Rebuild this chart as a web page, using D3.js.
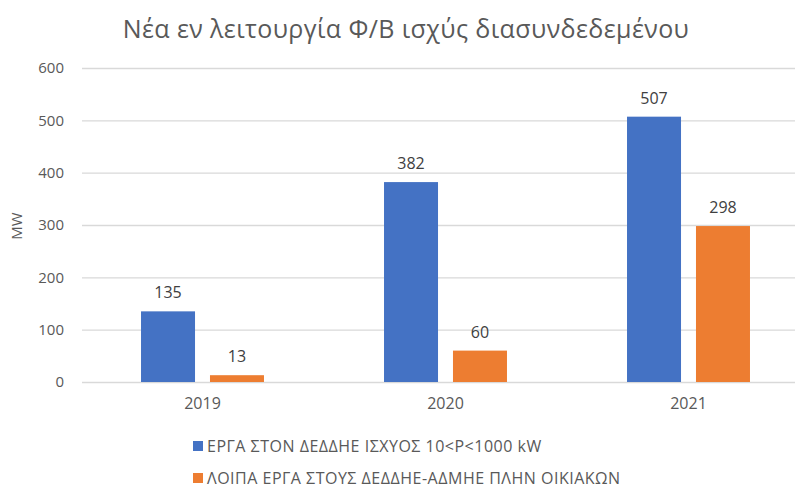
<!DOCTYPE html>
<html>
<head>
<meta charset="utf-8">
<script src="https://cdn.jsdelivr.net/npm/d3@7"></script>
<style>
  body { margin: 0; background: #fff; }
  text { font-family: "Open Sans", "Noto Sans", sans-serif; }
</style>
</head>
<body>
<div id="plot"></div>
<script>
// data
var years = ["2019", "2020", "2021"];
var seriesNames = [
    "ΕΡΓΑ ΣΤΟΝ ΔΕΔΔΗΕ ΙΣΧΥΟΣ 10<P<1000 kW",
    "ΛΟΙΠΑ ΕΡΓΑ ΣΤΟΥΣ ΔΕΔΔΗΕ-ΑΔΜΗΕ ΠΛΗΝ ΟΙΚΙΑΚΩΝ"
];
var dedde = [135, 382, 507];
var loipa = [13, 60, 298];
var yTicks = [0, 100, 200, 300, 400, 500, 600];
var colors = ["#4472C4", "#ED7D31"];

var W = 795, H = 489;
var svg = d3.select("#plot")
  .append("svg")
    .attr("width", W)
    .attr("height", H);

// title
svg.append("text")
    .attr("x", 406)
    .attr("y", 38)
    .attr("text-anchor", "middle")
    .style("font-size", "25px")
    .style("letter-spacing", "0.4px")
    .style("fill", "#595959")
    .text("Νέα εν λειτουργία Φ/Β ισχύς διασυνδεδεμένου");

// scales
var y = d3.scaleLinear().domain([0, 600]).range([382, 68]);
var x0 = d3.scaleBand().domain(years).range([81, 810])
    .paddingInner(0.494).paddingOuter(0.247);
var x1 = d3.scaleBand().domain([0, 1]).range([0, x0.bandwidth()])
    .paddingInner(0.217);

// gridlines
svg.append("g")
    .attr("transform", "translate(82,0)")
    .call(d3.axisLeft(y).tickValues(yTicks).tickSize(-730).tickFormat(""))
    .call(g => g.select(".domain").remove())
    .selectAll(".tick line").attr("stroke", "#d9d9d9").attr("stroke-width", 1.3);

// y tick labels
svg.append("g")
    .attr("transform", "translate(64,0)")
    .call(d3.axisLeft(y).tickValues(yTicks).tickSize(0).tickPadding(0))
    .call(g => g.select(".domain").remove())
    .selectAll("text")
    .style("font-size", "15px")
    .style("font-family", "'Open Sans', sans-serif")
    .style("fill", "#595959");

// y axis title
svg.append("text")
    .attr("transform", "translate(22,226) rotate(-90)")
    .attr("text-anchor", "middle")
    .style("font-size", "15px")
    .style("fill", "#595959")
    .text("MW");

// x labels
svg.append("g")
    .attr("transform", "translate(0,382)")
    .call(d3.axisBottom(x0).tickSize(0).tickPadding(16))
    .call(g => g.select(".domain").remove())
    .selectAll("text")
    .style("font-size", "16px")
    .style("font-family", "'Open Sans', sans-serif")
    .style("fill", "#595959");

// bars
var series = [dedde, loipa];
series.forEach(function (vals, s) {
    var g = svg.append("g");
    g.selectAll("rect")
        .data(vals)
        .enter()
        .append("rect")
        .attr("x", function (d, i) { return x0(years[i]) + x1(s); })
        .attr("y", function (d) { return y(d); })
        .attr("width", x1.bandwidth())
        .attr("height", function (d) { return y(0) - y(d); })
        .style("fill", colors[s]);
    g.selectAll("text")
        .data(vals)
        .enter()
        .append("text")
        .attr("x", function (d, i) { return x0(years[i]) + x1(s) + x1.bandwidth() / 2; })
        .attr("y", function (d) { return y(d) - 13; })
        .attr("text-anchor", "middle")
        .style("font-size", "16px")
        .style("fill", "#404040")
        .text(function (d) { return d; });
});

// legend
var legend = svg.append("g");
seriesNames.forEach(function (name, s) {
    var ly = 441 + s * 32;
    legend.append("rect")
        .attr("x", 193).attr("y", ly)
        .attr("width", 10).attr("height", 10)
        .style("fill", colors[s]);
    legend.append("text")
        .attr("x", 207).attr("y", ly + 11)
        .style("font-size", "16px")
        .style("letter-spacing", "0.5px")
        .style("fill", "#595959")
        .text(name);
});
</script>
</body>
</html>
